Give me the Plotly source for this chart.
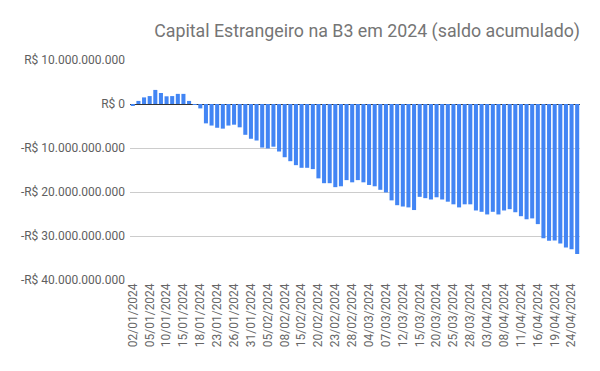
import plotly.graph_objects as go

dates = [
    "02/01/2024", "03/01/2024", "04/01/2024", "05/01/2024", "08/01/2024", "09/01/2024",
    "10/01/2024", "11/01/2024", "12/01/2024", "15/01/2024", "16/01/2024", "17/01/2024",
    "18/01/2024", "19/01/2024", "22/01/2024", "23/01/2024", "24/01/2024", "25/01/2024",
    "26/01/2024", "29/01/2024", "30/01/2024", "31/01/2024", "01/02/2024", "02/02/2024",
    "05/02/2024", "06/02/2024", "07/02/2024", "08/02/2024", "09/02/2024", "14/02/2024",
    "15/02/2024", "16/02/2024", "19/02/2024", "20/02/2024", "21/02/2024", "22/02/2024",
    "23/02/2024", "26/02/2024", "27/02/2024", "28/02/2024", "29/02/2024", "01/03/2024",
    "04/03/2024", "05/03/2024", "06/03/2024", "07/03/2024", "08/03/2024", "11/03/2024",
    "12/03/2024", "13/03/2024", "14/03/2024", "15/03/2024", "18/03/2024", "19/03/2024",
    "20/03/2024", "21/03/2024", "22/03/2024", "25/03/2024", "26/03/2024", "27/03/2024",
    "28/03/2024", "01/04/2024", "02/04/2024", "03/04/2024", "04/04/2024", "05/04/2024",
    "08/04/2024", "09/04/2024", "10/04/2024", "11/04/2024", "12/04/2024", "15/04/2024",
    "16/04/2024", "17/04/2024", "18/04/2024", "19/04/2024", "22/04/2024", "23/04/2024",
    "24/04/2024", "25/04/2024",
]

# saldo acumulado, em bilhões de reais
saldo_bi = [
    -0.45, 0.7, 1.5, 1.8, 3.2, 2.5, 1.75, 1.8, 2.3, 2.3,
    0.7, -0.1, -1.0, -4.4, -4.9, -5.4, -5.6, -4.9, -4.7, -5.3,
    -7.0, -7.9, -8.3, -9.9, -10.1, -9.7, -10.8, -12.1, -13.0, -13.9,
    -14.5, -14.5, -14.8, -16.9, -18.0, -18.0, -18.9, -18.7, -17.3, -17.8,
    -17.3, -17.8, -18.4, -18.7, -19.5, -20.1, -21.9, -23.0, -23.3, -23.5,
    -24.1, -21.1, -21.4, -21.7, -21.2, -21.7, -22.2, -22.8, -23.5, -22.8,
    -22.8, -24.2, -24.5, -25.1, -24.5, -25.1, -24.2, -23.9, -24.6, -25.5,
    -26.2, -26.0, -27.3, -30.5, -31.1, -31.0, -31.7, -32.6, -33.0, -34.1,
]

y_tick_values = [10e9, 0, -10e9, -20e9, -30e9, -40e9]
y_tick_labels = [
    "R$ 10.000.000.000", "R$ 0", "-R$ 10.000.000.000",
    "-R$ 20.000.000.000", "-R$ 30.000.000.000", "-R$ 40.000.000.000",
]

saldo = [v * 1e9 for v in saldo_bi]
x_tick_values = dates[::3]

fig = go.Figure(
    go.Bar(x=dates, y=saldo, marker=dict(color="#4285F4", line=dict(width=0)))
)

# the page body adds an 8px margin, so the figure is sized/positioned to compensate
fig.update_layout(
    width=592, height=363,
    margin=dict(l=122, r=20, t=52, b=91, autoexpand=False),
    paper_bgcolor="white", plot_bgcolor="white",
    font=dict(family="Roboto, sans-serif", size=12, color="#5f5f5f"),
    bargap=0.28,
    showlegend=False,
    title=dict(
        text="Capital Estrangeiro na B3 em 2024 (saldo acumulado)",
        x=1.0, xanchor="right", xref="paper",
        y=1 - 23 / 363, yanchor="middle", yref="container",
        font=dict(family="Roboto, sans-serif", size=17.8, color="#757575"),
    ),
)

fig.update_xaxes(
    type="category",
    tickmode="array", tickvals=x_tick_values, ticktext=x_tick_values,
    tickangle=-90, showgrid=False, showline=False, ticks="",
    tickfont=dict(size=12, color="#666666"),
    range=[-0.5, len(dates) - 0.5],
    automargin=False,
)

fig.update_yaxes(
    range=[-40e9, 10e9],
    tickmode="array", tickvals=y_tick_values, ticktext=y_tick_labels,
    showgrid=True, gridcolor="#cccccc", gridwidth=1,
    zeroline=True, zerolinecolor="#333333", zerolinewidth=1,
    showline=False, ticks="",
    ticklabelstandoff=4,
    tickfont=dict(size=12, color="#5f5f5f"),
    automargin=False,
)

fig.write_html("out.html")
